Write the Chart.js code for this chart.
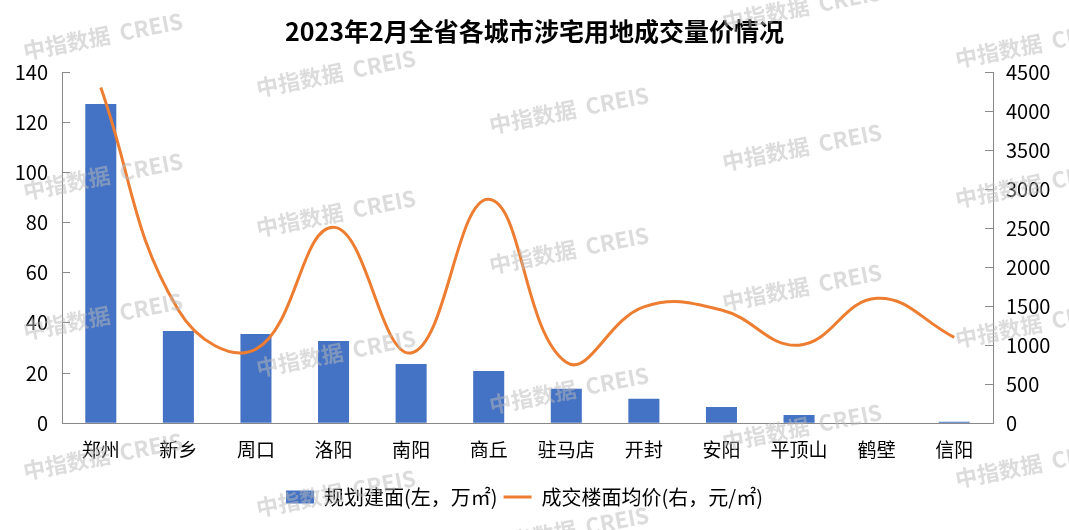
<!DOCTYPE html>
<html>
<head>
<meta charset="utf-8">
<script src="https://cdn.jsdelivr.net/npm/chart.js@4/dist/chart.umd.min.js"></script>
<style>
  body { margin: 0; background: #fff; }
  #wrap { width: 1069px; height: 530px; position: relative; }
</style>
</head>
<body>
<div id="wrap"><canvas id="chart"></canvas></div>
<script>
// 数据
const categories = ['郑州', '新乡', '周口', '洛阳', '南阳', '商丘', '驻马店', '开封', '安阳', '平顶山', '鹤壁', '信阳'];
const areaValues = [127.2, 36.8, 35.6, 32.8, 23.6, 20.8, 13.7, 9.7, 6.5, 3.3, 0, 0.6];      // 规划建面(万㎡)
const priceValues = [4300, 1450, 950, 2510, 900, 2870, 780, 1490, 1450, 1000, 1600, 1100]; // 成交楼面均价(元/㎡)
const seriesNames = ['规划建面(左，万㎡)', '成交楼面均价(右，元/㎡)'];
const chartTitle = '2023年2月全省各城市涉宅用地成交量价情况';
const watermarkText = '中指数据  CREIS';

const FONT = '"Noto Sans CJK SC", "Noto Sans", sans-serif';
const axisGray = '#898989';

// 水印
const watermark = {
    id: 'watermark',
    afterLayout(chart) {
        // 图例整体略向左
        chart.legend.left -= 10;
        chart.legend.right -= 10;
    },
    afterDraw(chart) {
        const ctx = chart.ctx;
        ctx.save();
        ctx.font = 'bold 22px ' + FONT;
        ctx.fillStyle = 'rgba(185,185,185,0.5)';
        ctx.textAlign = 'center';
        ctx.textBaseline = 'middle';
        for (let c = 0; c < 5; c++) {
            const cx = 103 + 233 * c;
            const y0 = 36 + 37 * c;
            for (let k = -1; k < 5; k++) {
                const cy = y0 + 140 * k;
                if (cy < -30 || cy > 560) continue;
                ctx.save();
                ctx.translate(cx, cy);
                ctx.rotate(-11 * Math.PI / 180);
                ctx.fillText(watermarkText, 0, 0);
                ctx.restore();
            }
        }
        ctx.restore();
    }
};

const ctx = document.getElementById('chart').getContext('2d');
new Chart(ctx, {
    data: {
        labels: categories,
        datasets: [
            {
                type: 'bar',
                label: seriesNames[0],
                data: areaValues,
                backgroundColor: '#4472C4',
                yAxisID: 'y',
                categoryPercentage: 0.8,
                barPercentage: 0.5,
                order: 1
            },
            {
                type: 'line',
                label: seriesNames[1],
                data: priceValues,
                borderColor: '#ED7D31',
                borderWidth: 3,
                pointRadius: 0,
                tension: 0.42,
                fill: false,
                yAxisID: 'y1',
                order: 0
            }
        ]
    },
    options: {
        responsive: true,
        maintainAspectRatio: false,
        animation: false,
        layout: { padding: { left: 0, right: 0, top: 0, bottom: 13 } },
        plugins: {
            title: {
                display: true,
                text: chartTitle,
                color: '#000',
                font: { family: FONT, size: 25, weight: 'bold' },
                padding: { top: 16, bottom: 26 }
            },
            legend: {
                position: 'bottom',
                labels: {
                    color: '#000',
                    font: { family: FONT, size: 20 },
                    usePointStyle: true,
                    pointStyleWidth: 28,
                    boxHeight: 13,
                    padding: 6,
                    generateLabels: () => [
                        { text: seriesNames[0], fillStyle: '#4472C4', strokeStyle: '#4472C4', lineWidth: 0, pointStyle: 'rect', datasetIndex: 0 },
                        { text: seriesNames[1], fillStyle: '#ED7D31', strokeStyle: '#ED7D31', lineWidth: 3, pointStyle: 'line', datasetIndex: 1 }
                    ]
                }
            },
            tooltip: { enabled: false }
        },
        scales: {
            x: {
                grid: { display: false },
                border: { display: true, color: axisGray, width: 1 },
                ticks: {
                    color: '#000',
                    font: { family: FONT, size: 19 },
                    padding: 7,
                    maxRotation: 0,
                    autoSkip: false
                },
                afterFit: scale => { scale.height += 13; }
            },
            y: {
                position: 'left',
                min: 0,
                max: 140,
                grid: { drawOnChartArea: false, tickLength: -8, color: axisGray },
                border: { display: true, color: axisGray, width: 1 },
                ticks: { stepSize: 20, color: '#000', font: { family: FONT, size: 20 }, padding: 22 },
                afterFit: scale => { scale.width = 62; }
            },
            y1: {
                position: 'right',
                min: 0,
                max: 4500,
                grid: { drawOnChartArea: false, tickLength: -8, color: axisGray },
                border: { display: true, color: axisGray, width: 1 },
                ticks: { stepSize: 500, color: '#000', font: { family: FONT, size: 20 }, padding: 21, callback: v => String(v) },
                afterFit: scale => { scale.width = 76; }
            }
        }
    },
    plugins: [watermark]
});
</script>
</body>
</html>
